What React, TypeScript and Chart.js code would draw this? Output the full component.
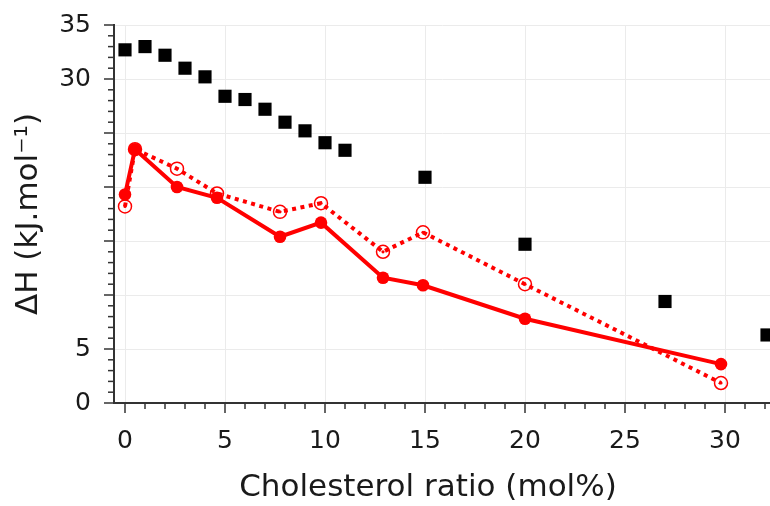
import React, { useEffect, useRef } from "react";
import { Chart, registerables } from "chart.js";

Chart.register(...registerables);

// Black squares
const squareX = [0, 1, 2, 3, 4, 5, 6, 7, 8, 9, 10, 11, 15, 20, 27, 32.1];
const squareY = [32.7, 33.0, 32.2, 31.0, 30.2, 28.4, 28.1, 27.2, 26.0, 25.2, 24.1, 23.4, 20.9, 14.7, 9.4, 6.3];

// Solid red series (filled circles)
const solidX = [0, 0.5, 2.6, 4.6, 7.75, 9.8, 12.9, 14.9, 20, 29.8];
const solidY = [19.3, 23.5, 20.0, 19.0, 15.4, 16.7, 11.6, 10.9, 7.8, 3.6];

// Dotted red series (hollow circles)
const dottedX = [0, 0.5, 2.6, 4.6, 7.75, 9.8, 12.9, 14.9, 20, 29.8];
const dottedY = [18.2, 23.5, 21.7, 19.4, 17.7, 18.5, 14.0, 15.8, 11.0, 1.85];

const xMajorTicks = [0, 5, 10, 15, 20, 25, 30];
const yMajorTicks = [0, 5, 10, 15, 20, 25, 30, 35];
const yLabelled = [0, 5, 30, 35];

const xTitle = "Cholesterol ratio (mol%)";
const yTitle = "ΔH (kJ.mol⁻¹)";

const FONT = "'DejaVu Sans', sans-serif";
const RED = "#ff0000";
const AXIS = "#333333";
const TEXT = "#1a1a1a";

const pts = (xs: number[], ys: number[]) => xs.map((x, i) => ({ x, y: ys[i] }));

const axisDecorPlugin = {
  id: "axisDecor",
  afterDraw(chart: any) {
    const ctx = chart.ctx;
    const xs = chart.scales.x;
    const ys = chart.scales.y;
    const area = chart.chartArea;
    ctx.save();
    ctx.strokeStyle = AXIS;
    ctx.lineWidth = 1.5;
    for (let v = 0; v <= 32; v++) {
      const px = xs.getPixelForValue(v);
      if (px < area.left - 1 || px > area.right + 1) continue;
      const len = v % 5 === 0 ? 10 : 6;
      ctx.beginPath();
      ctx.moveTo(px, area.bottom);
      ctx.lineTo(px, area.bottom + len);
      ctx.stroke();
    }
    for (let v = 0; v <= 35; v++) {
      const py = ys.getPixelForValue(v);
      const len = v % 5 === 0 ? 10 : 6;
      ctx.beginPath();
      ctx.moveTo(area.left, py);
      ctx.lineTo(area.left - len, py);
      ctx.stroke();
    }
    // x-axis title (centred slightly left of the visible plot, as in the source figure)
    ctx.fillStyle = TEXT;
    ctx.font = `31px ${FONT}`;
    ctx.textAlign = "center";
    ctx.textBaseline = "middle";
    ctx.fillText(xTitle, (area.left + area.right) / 2 - 14, chart.height - 18);
    ctx.restore();
  },
};

export default function App() {
  const ref = useRef<HTMLCanvasElement | null>(null);
  useEffect(() => {
    if (!ref.current) return;
    const chart = new Chart(ref.current, {
      type: "scatter",
      data: {
        datasets: [
          {
            label: "squares",
            data: pts(squareX, squareY),
            pointStyle: "rect",
            pointRadius: 9.3,
            pointBackgroundColor: "#000",
            pointBorderWidth: 0,
            showLine: false,
            order: 0,
          },
          {
            label: "solid",
            data: pts(solidX, solidY),
            showLine: true,
            borderColor: RED,
            borderWidth: 4,
            pointRadius: 6.3,
            pointBackgroundColor: RED,
            pointBorderColor: RED,
            pointBorderWidth: 0,
            order: 1,
          },
          {
            label: "dotted",
            data: pts(dottedX, dottedY),
            showLine: true,
            borderColor: RED,
            borderWidth: 4,
            borderDash: [4, 4.5],
            pointRadius: 6.5,
            pointBackgroundColor: "rgba(0,0,0,0)",
            pointBorderColor: RED,
            pointBorderWidth: 1.5,
            order: 2,
          },
          {
            label: "dotted-centres",
            data: pts(dottedX, dottedY),
            showLine: false,
            pointRadius: 1.6,
            pointBackgroundColor: RED,
            pointBorderWidth: 0,
            order: 2,
          },
        ],
      },
      options: {
        responsive: false,
        animation: false,
        layout: { autoPadding: false, padding: { top: 25, right: 0, left: 0, bottom: 0 } },
        plugins: { legend: { display: false }, tooltip: { enabled: false } },
        scales: {
          x: {
            type: "linear",
            min: -0.55,
            max: 32.25,
            afterBuildTicks: (s: any) => {
              s.ticks = xMajorTicks.map((v) => ({ value: v }));
            },
            afterFit: (s: any) => {
              s.height = 103;
              s.paddingLeft = 0;
              s.paddingRight = 0;
            },
            grid: { color: "#ebebeb", lineWidth: 1, drawTicks: false },
            border: { display: true, color: AXIS, width: 2 },
            ticks: {
              padding: 23,
              color: TEXT,
              font: { family: FONT, size: 25 },
              maxRotation: 0,
            },
            title: { display: false },
          },
          y: {
            type: "linear",
            min: 0,
            max: 35,
            afterBuildTicks: (s: any) => {
              s.ticks = yMajorTicks.map((v) => ({ value: v }));
            },
            afterFit: (s: any) => {
              s.width = 114;
              s.paddingTop = 0;
              s.paddingBottom = 0;
            },
            grid: { color: "#ebebeb", lineWidth: 1, drawTicks: false },
            border: { display: true, color: AXIS, width: 2 },
            ticks: {
              padding: 23,
              color: TEXT,
              font: { family: FONT, size: 25 },
              callback: (v: any) => (yLabelled.includes(Number(v)) ? String(v) : ""),
            },
            title: {
              display: true,
              text: yTitle,
              color: TEXT,
              font: { family: FONT, size: 31 },
              padding: { top: 10, bottom: 0 },
            },
          },
        },
      },
      plugins: [axisDecorPlugin],
    });
    return () => chart.destroy();
  }, []);
  return (
    <div style={{ position: "fixed", left: 0, top: 0, width: 770, height: 506, background: "#fff", overflow: "hidden" }}>
      <canvas ref={ref} width={770} height={506} style={{ display: "block" }} />
    </div>
  );
}
